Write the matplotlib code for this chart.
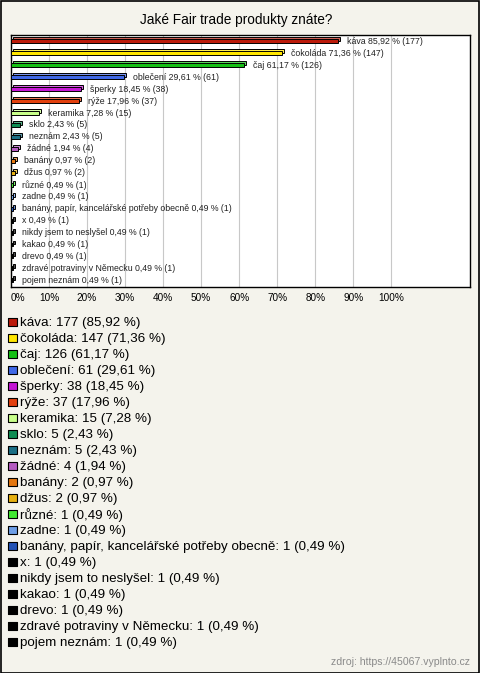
import matplotlib
matplotlib.use('Agg')
import matplotlib.pyplot as plt
import matplotlib.colors as mcolors
from matplotlib.patches import Rectangle
from matplotlib.transforms import ScaledTranslation

plt.rcParams['font.family'] = ['Liberation Sans', 'DejaVu Sans']

title = 'Jaké Fair trade produkty znáte?'
source = 'zdroj: https://45067.vyplnto.cz'

products = ['káva', 'čokoláda', 'čaj', 'oblečení', 'šperky', 'rýže', 'keramika',
            'sklo', 'neznám', 'žádné', 'banány', 'džus', 'různé', 'zadne',
            'banány, papír, kancelářské potřeby obecně', 'x',
            'nikdy jsem to neslyšel', 'kakao', 'drevo',
            'zdravé potraviny v Německu', 'pojem neznám']
counts = [177, 147, 126, 61, 38, 37, 15, 5, 5, 4, 2, 2, 1, 1, 1, 1, 1, 1, 1, 1, 1]
percents = [85.92, 71.36, 61.17, 29.61, 18.45, 17.96, 7.28, 2.43, 2.43, 1.94,
            0.97, 0.97, 0.49, 0.49, 0.49, 0.49, 0.49, 0.49, 0.49, 0.49, 0.49]
colors = ['#bb1a0a', '#ffe600', '#14c014', '#4068e6', '#c416d4', '#e2400e',
          '#c8ff8a', '#0e8c52', '#1b6f85', '#b45bc0', '#e47710', '#e6b010',
          '#40e830', '#6e9ee6', '#2353b6', '#000000', '#000000', '#000000',
          '#000000', '#000000', '#000000']
xticks = [0, 10, 20, 30, 40, 50, 60, 70, 80, 90, 100]

W, H = 480, 673
bg = '#f4f3ec'


def pct(v):
    return f'{v:.2f}'.replace('.', ',') + ' %'


def lighter(c, f=0.3):
    r, g, b = mcolors.to_rgb(c)
    return (r + (1 - r) * f, g + (1 - g) * f, b + (1 - b) * f)


fig = plt.figure(figsize=(W / 100, H / 100), dpi=100, facecolor=bg)

# outer border
fig.add_artist(Rectangle((0.5 / W, 0.5 / H), 1 - 1.5 / W, 1 - 1.5 / H, transform=fig.transFigure,
                         fill=False, edgecolor='black', lw=1.2))

fig.text(236.5 / W, 1 - 20 / H, title, ha='center', va='center', fontsize=9.8)

# bar chart with a small 3D look (back face shifted up/right)
ax = fig.add_axes([11 / W, 1 - 286.7 / H, 459 / W, 251.7 / H])
ax.set_facecolor('white')
rows = list(range(len(products)))
bh = 0.33
shift = ScaledTranslation(2 / 100, 2 / 100, fig.dpi_scale_trans)
back = ax.barh(rows, percents, height=bh, color=[lighter(c) for c in colors],
               edgecolor='black', linewidth=0.7, zorder=2)
for p in back:
    p.set_transform(ax.transData + shift)
ax.barh(rows, percents, height=bh, color=colors, edgecolor='black', linewidth=0.7, zorder=3)

for i in rows:
    ax.annotate(f'{products[i]} {pct(percents[i])} ({counts[i]})', (percents[i], i),
                xytext=(6.5, 0), textcoords='offset points', va='center', ha='left',
                fontsize=6.3, color='#222222', zorder=4)

ax.set_xlim(0, 120.7)
ax.set_ylim(20.53, -0.53)
ax.set_xticks(xticks)
ax.set_xticklabels([f'{t}%' for t in xticks], fontsize=7.2)
ax.get_xticklabels()[0].set_horizontalalignment('left')
ax.set_yticks([])
ax.tick_params(axis='x', length=0, pad=4.5)
ax.grid(axis='x', color='#c8c8c8', lw=0.8, zorder=0)
ax.set_axisbelow(True)
for s in ax.spines.values():
    s.set_color('black')
    s.set_linewidth(1.0)

# legend list
lax = fig.add_axes([0, 1 - 649.9 / H, 1, 335.9 / H])
lax.set_xlim(0, W)
lax.set_ylim(20.5, -0.5)
lax.axis('off')
lax.scatter([12.5] * len(rows), rows, marker='s', s=34, c=colors, edgecolors='black',
            linewidths=0.8)
for i in rows:
    lax.text(20, i, f'{products[i]}: {counts[i]} ({pct(percents[i])})', va='center_baseline',
             ha='left', fontsize=9.6, color='black')

fig.text(470 / W, 1 - 662 / H, source, ha='right', va='center', fontsize=7.6, color='#8a8a8a')

fig.savefig('out.png', dpi=100, facecolor=bg)
